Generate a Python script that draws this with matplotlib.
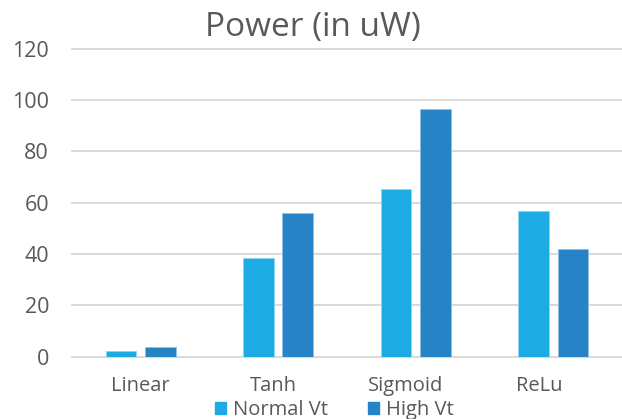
import numpy as np
import matplotlib.pyplot as plt
from matplotlib.patches import Patch

# power per activation function, uW
categories = ['Linear', 'Tanh', 'Sigmoid', 'ReLu']
normal_vt = [2.2, 38.3, 65.5, 56.9]
high_vt = [3.8, 56.1, 96.5, 41.9]
yticks = [0, 20, 40, 60, 80, 100, 120]

c_normal = '#1CACE3'
c_high = '#2683C6'
txt = '#595959'
grid = '#D9D9D9'

plt.rcParams['font.family'] = ['Open Sans', 'DejaVu Sans']

fig = plt.figure(figsize=(6.22, 4.19), dpi=100, facecolor='white')
ax = fig.add_axes([0.1157, 0.1487, 0.8843, 0.7351])

x = np.arange(len(categories))
w = 0.225
off = 0.1435
ax.bar(x - off, normal_vt, w, color=c_normal, edgecolor='#8FD3F0', linewidth=0.6, zorder=3)
ax.bar(x + off, high_vt, w, color=c_high, edgecolor='#8EBFE6', linewidth=0.6, zorder=3)

ax.set_xlim(-0.5, len(categories) - 0.5)
ax.set_ylim(0, 120)
ax.set_yticks(yticks)
for v in yticks:
    ax.axhline(v, color=grid, lw=1.4, zorder=1, clip_on=False)

# category labels sit a little left of the bar groups
label_x = x - 0.035 * x
ax.set_xticks(label_x)
ax.set_xticklabels(categories)
ax.tick_params(axis='both', length=0, colors=txt)
ax.tick_params(axis='y', pad=16.5, labelsize=15.5)
ax.tick_params(axis='x', pad=14, labelsize=14.5)
for s in ax.spines.values():
    s.set_visible(False)

fig.text(0.503, 0.935, 'Power (in uW)', ha='center', va='center', fontsize=24, color=txt)

handles = [Patch(color=c_normal, label='Normal Vt'), Patch(color=c_high, label='High Vt')]
fig.legend(handles=handles, loc='center', bbox_to_anchor=(0.5376, 0.022), ncol=2,
           frameon=False, fontsize=14.5, labelcolor=txt, handlelength=0.55, handleheight=0.55,
           handletextpad=0.35, columnspacing=2.0, borderpad=0.0)

fig.savefig('out.png', dpi=100)
